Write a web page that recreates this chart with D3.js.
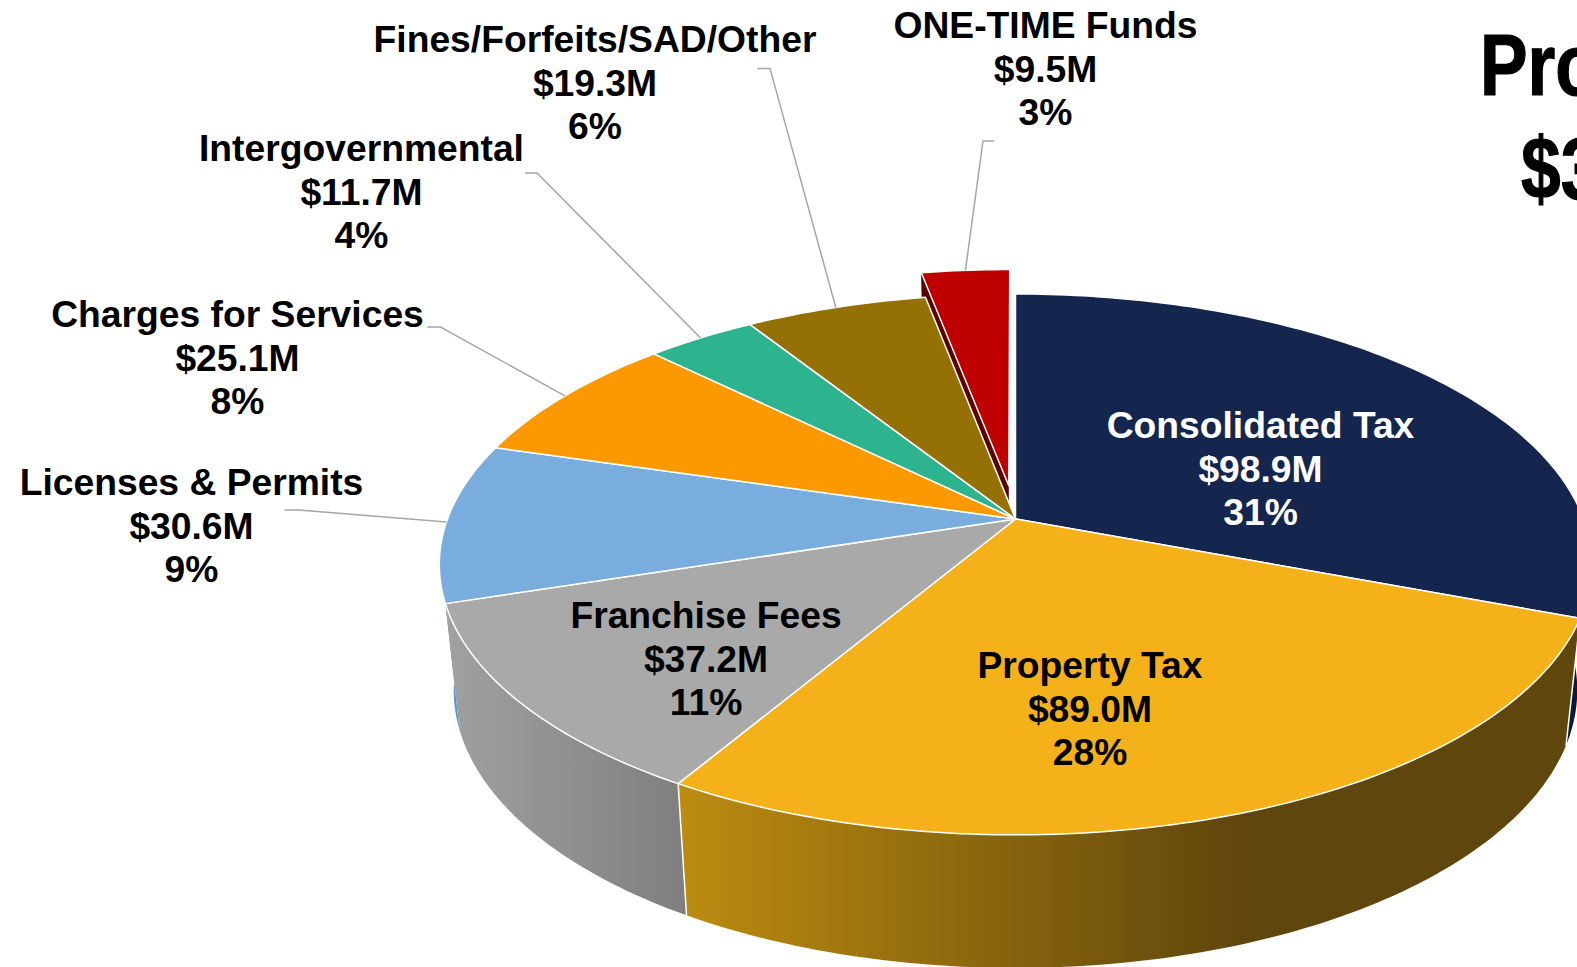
<!DOCTYPE html>
<html>
<head>
<meta charset="utf-8">
<script src="https://cdn.jsdelivr.net/npm/d3@7"></script>
<style>
html, body { margin: 0; padding: 0; background: #fff; overflow: hidden; }
text { font-family: "Liberation Sans", Arial, sans-serif; font-weight: bold; }
</style>
</head>
<body>
<div id="chart"></div>
<script>
/*
DATA
*/
const categories = ["Consolidated Tax", "Property Tax", "Franchise Fees", "Licenses & Permits",
	"Charges for Services", "Intergovernmental", "Fines/Forfeits/SAD/Other", "ONE-TIME Funds"];
const amounts = [98.9, 89.0, 37.2, 30.6, 25.1, 11.7, 19.3, 9.5];
const percents = [31, 28, 11, 9, 8, 4, 6, 3];
const topColors = ["#14264E", "#F4B11A", "#A9A9A9", "#78ADDD", "#FD9900", "#2DB48E", "#957004", "#BF0000"];
const sideColors = ["#0C1A38", "url(#goldSide)", "url(#graySide)", "#5B97CF", "#B06A00", "#1F7D63", "#5E4702", "#5E0000"];
const titleLines = ["Pro", "$3"];

/*
SET UP
*/
const w = 1577;
const h = 967;
const hub = { x: 1015.5, y: 519 };
const a = 568; // half width at the row of the hub
const b = 262.8;
const k = -0.168; // perspective of the pie top
const depth = 124.5;
const explodeIdx = 7;
const explode = 0.13;

// label centre x, first baseline, and the elbow of the leader line (if any)
const labelPos = [
	{ x: 1260.5, y: 438, color: "#fff" },
	{ x: 1090, y: 678 },
	{ x: 706, y: 628 },
	{ x: 191.5, y: 495, elbow: [[284.6, 510], [298.7, 510]] },
	{ x: 237.5, y: 327, elbow: [[427.4, 327], [440.5, 327]] },
	{ x: 361.5, y: 161, elbow: [[525, 173], [537, 173]] },
	{ x: 595, y: 52, elbow: [[757, 68.4], [770, 68.4]] },
	{ x: 1045.5, y: 38, elbow: [[994, 141], [983, 141]] }
];

const svg = d3.select("#chart").append("svg").attr("width", w).attr("height", h)
	.style("display", "block");

const defs = svg.append("defs");
function addGradient(id, x1, x2, c1, c2) {
	const g = defs.append("linearGradient").attr("id", id)
		.attr("gradientUnits", "userSpaceOnUse")
		.attr("x1", x1).attr("x2", x2).attr("y1", 0).attr("y2", 0);
	g.append("stop").attr("offset", 0).attr("stop-color", c1);
	g.append("stop").attr("offset", 1).attr("stop-color", c2);
}
addGradient("goldSide", 680, 1240, "#BC8C10", "#5F460C");
addGradient("graySide", 450, 685, "#A0A0A0", "#7F7F7F");

/*
PIE IN PERSPECTIVE
*/
const pie = d3.pie().sort(null).value((d) => d);
const arcs = pie(amounts);
const line = d3.line();

// point on the unit disc -> screen
function project(u, v) {
	const s = 1 + k * v;
	return [hub.x + (a * u) / s, hub.y + (b * v) / s];
}
function onRim(angle, r, off) {
	return project(off[0] + r * Math.sin(angle), off[1] - r * Math.cos(angle));
}
function lower(p) {
	return [hub.x + (p[0] - hub.x) * 0.975, p[1] + depth + 0.027 * (p[1] - hub.y)];
}
function rimPoints(d, off) {
	const n = Math.ceil(((d.endAngle - d.startAngle) * 180) / Math.PI);
	return d3.range(n + 1).map((i) =>
		onRim(d.startAngle + ((d.endAngle - d.startAngle) * i) / n, 1, off));
}

const slices = arcs.map((d, i) => {
	const mid = (d.startAngle + d.endAngle) / 2;
	const e = i === explodeIdx ? explode : 0;
	const off = [e * Math.sin(mid), -e * Math.cos(mid)];
	return { d, i, mid, off, rim: rimPoints(d, off), centre: project(off[0], off[1]) };
});

// sides go first, the ones nearest to the viewer last
const sideOrder = [7, 6, 5, 4, 0, 3, 2, 1];
const sides = svg.append("g");
sideOrder.forEach((i) => {
	const s = slices[i];
	sides.append("path")
		.attr("d", line(s.rim.concat(s.rim.map(lower).reverse())) + "Z")
		.attr("fill", sideColors[i]);
});

// white seams where two visible sides meet
[1, 2].forEach((i) => {
	const p = slices[i].rim[0];
	sides.append("path")
		.attr("d", line([p, lower(p)]))
		.attr("stroke", "#fff")
		.attr("stroke-width", 1.5);
});

// inner cut face of the pulled out slice
const red = slices[explodeIdx];
sides.append("path")
	.attr("d", line([red.centre, red.rim[0], lower(red.rim[0]), lower(red.centre)]) + "Z")
	.attr("fill", sideColors[explodeIdx]);

const tops = svg.append("g");
[7, 0, 1, 2, 3, 4, 5, 6].forEach((i) => {
	const s = slices[i];
	tops.append("path")
		.attr("d", line([s.centre].concat(s.rim)) + "Z")
		.attr("fill", topColors[i])
		.attr("stroke", "#fff")
		.attr("stroke-width", 1.5)
		.attr("stroke-linejoin", "round");
});

/*
LEADER LINES
*/
const leaders = svg.append("g");
labelPos.forEach((p, i) => {
	if (!p.elbow) return;
	const s = slices[i];
	leaders.append("path")
		.attr("d", line(p.elbow.concat([onRim(s.mid, 1, s.off)])))
		.attr("fill", "none")
		.attr("stroke", "#A6A6A6")
		.attr("stroke-width", 1.5);
});

/*
LABELS
*/
const labels = svg.append("g").attr("text-anchor", "middle").attr("font-size", 37.25);
categories.forEach((c, i) => {
	const p = labelPos[i];
	const rows = [c, `$${amounts[i].toFixed(1)}M`, `${percents[i]}%`];
	labels.selectAll(null).data(rows).join("text")
		.attr("x", p.x)
		.attr("y", (d, j) => p.y + j * 43.5)
		.attr("fill", p.color || "#000")
		.text((d) => d);
});

/*
TITLE (runs off the page)
*/
const titleX = [1480, 1521];
const titleY = [94.5, 199];
titleLines.forEach((t, i) => {
	svg.append("text")
		.attr("transform", `translate(${titleX[i]},${titleY[i]}) scale(0.82,1)`)
		.attr("font-size", 87)
		.attr("fill", "#000")
		.attr("stroke", "#000")
		.attr("stroke-width", 1.2)
		.text(t);
});
</script>
</body>
</html>
